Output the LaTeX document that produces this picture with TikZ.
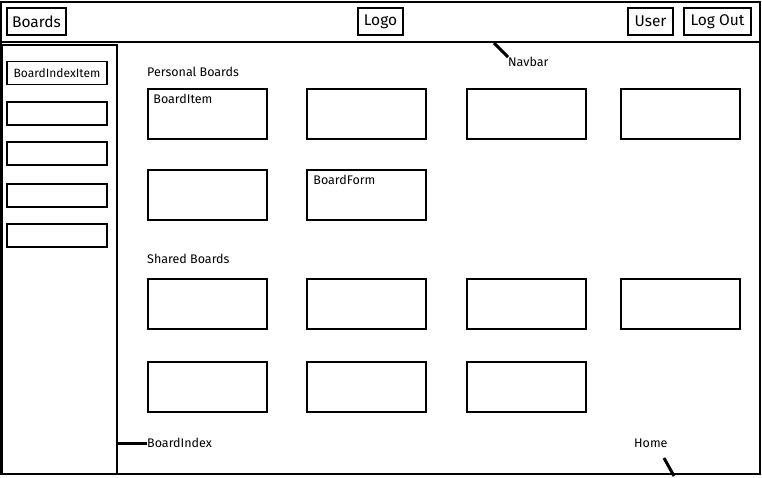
\documentclass[tikz,border=0pt]{standalone}
\usepackage{fontspec}
\setmainfont{Fira Sans}
\usetikzlibrary{positioning}

\tikzset{
  frame/.style={draw, line width=1.8pt, inner sep=0pt},
  button/.style={draw, line width=1.6pt, minimum height=27pt, inner sep=0pt, font=\fontsize{15.5}{17}\selectfont},
  indexitem/.style={draw, line width=1.6pt, minimum width=100pt, minimum height=23pt, inner sep=0pt, font=\fontsize{12}{14}\selectfont},
  card/.style={draw, line width=1.6pt, minimum width=119pt, minimum height=50pt, inner sep=0pt},
  cardname/.style={font=\fontsize{12.5}{14}\selectfont, inner sep=0pt},
  tag/.style={font=\fontsize{12.5}{14}\selectfont, inner sep=0pt, anchor=west},
  pointer/.style={line width=3pt}
}

\begin{document}
\begin{tikzpicture}[x=1pt, y=-1pt]
  \useasboundingbox (0,0) rectangle (762,477);

  % page frame, navbar and sidebar
  \node[frame, minimum width=759pt, minimum height=472pt] (home) at (380.5,238) {};
  \node[frame, minimum width=759pt, minimum height=40pt] (navbar) at (380.5,22) {};
  \node[frame, line width=1.4pt, minimum width=115pt, minimum height=429pt] (boardindex) at (59.5,259.5) {};

  % navbar buttons
  \node[button, minimum width=59pt] (boards) at (36.5,21.5) {Boards};
  \node[button, minimum width=45pt] (logo) at (380.5,21.5) {Logo};
  \node[button, minimum width=45pt] (user) at (650.5,21.5) {User};
  \node[button, minimum width=67pt] (logout) at (717.5,21.5) {Log Out};

  % sidebar items
  \node[indexitem] (item1) at (57,73) {BoardIndexItem};
  \node[indexitem] (item2) at (57,113.5) {};
  \node[indexitem] (item3) at (57,153.5) {};
  \node[indexitem] (item4) at (57,195.5) {};
  \node[indexitem] (item5) at (57,235.5) {};

  % personal boards
  \node[tag] (personal) at (147,72) {Personal Boards};
  \node[card] (p1) at (207.5,114) {};
  \node[card] (p2) at (366.5,114) {};
  \node[card] (p3) at (526.5,114) {};
  \node[card] (p4) at (680.5,114) {};
  \node[card] (p5) at (207.5,195) {};
  \node[card] (form) at (366.5,195) {};
  \node[cardname, anchor=north west] (itemname) at ([xshift=6pt,yshift=-6pt]p1.north west) {BoardItem};
  \node[cardname, anchor=north west] (formname) at ([xshift=7pt,yshift=-6pt]form.north west) {BoardForm};

  % shared boards
  \node[tag] (shared) at (147,259) {Shared Boards};
  \node[card] (s1) at (207.5,304) {};
  \node[card] (s2) at (366.5,304) {};
  \node[card] (s3) at (526.5,304) {};
  \node[card] (s4) at (680.5,304) {};
  \node[card] (s5) at (207.5,387) {};
  \node[card] (s6) at (366.5,387) {};
  \node[card] (s7) at (526.5,387) {};

  % component labels
  \node[tag] (navlbl) at (508,62) {Navbar};
  \node[tag] (idxlbl) at (147,443) {BoardIndex};
  \node[tag] (homelbl) at (634,443) {Home};
  \coordinate (navtip) at (494,43);
  \coordinate (homefoot) at (664,458);
  \coordinate (hometip) at (674,476);
  \draw[pointer] (navtip) -- (navlbl.north west);
  \draw[pointer] (boardindex.east |- idxlbl.west) -- (idxlbl.west);
  \draw[pointer] (homefoot) -- (hometip);
\end{tikzpicture}
\end{document}
